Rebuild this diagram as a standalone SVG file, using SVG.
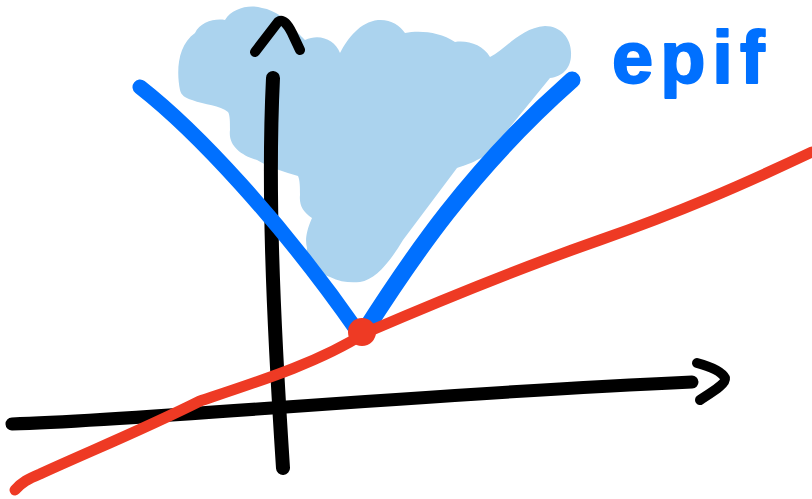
<svg xmlns="http://www.w3.org/2000/svg" width="812" height="499" viewBox="0 0 812 499">
<style>
.ink{fill:none;stroke-linecap:round;stroke-linejoin:round}
.blk{stroke:#000}
.blu{stroke:#0070FF}
.red{stroke:#EE3A24}
.cloud{fill:#ABD3EE}
.lbl{font-family:"Liberation Sans",Arial,sans-serif;font-weight:bold;fill:#0070FF;stroke:#0070FF;stroke-width:2;stroke-linejoin:round}
</style>
<rect width="812" height="499" fill="#fff"/>
<g id="epigraph">
<path class="cloud" d="M180,90 C176,70 178,45 195,33 C200,22 215,18 225,20 C232,8 250,4 262,8 C275,10 288,20 295,30 C300,35 303,38 305,40 C320,33 335,40 340,53 C348,38 360,22 378,20 C390,19 400,25 405,33 C420,30 440,32 455,42 C468,40 483,45 490,57 C505,50 520,28 545,26 C562,26 572,40 571,55 C571,68 562,77 550,78 L510,127 C500,140 490,155 477,160 C470,164 462,166 457,168 L403,240 C390,262 375,280 360,282 C350,283 340,282 330,277 C315,272 305,260 307,248 C305,240 306,232 312,218 C303,212 299,205 300,195 C300,188 300,180 298,176 C285,172 270,168 257,160 C240,155 228,145 230,130 C230,122 230,115 228,112 C220,105 205,105 192,100 C185,98 181,95 180,90 Z"/>
</g>
<g id="axes">
<path class="ink blk" stroke-width="14" d="M273,78 C268,180 272,300 283,468"/>
<path class="ink blk" stroke-width="10" d="M255,52 L278,22 C283,18 288,25 292,33 L300,50"/>
<path class="ink blk" stroke-width="13" d="M12,424 C150,420 400,395 692,382"/>
<path class="ink blk" stroke-width="10" d="M697,363 C712,367 722,372 725,378 C726,384 712,392 700,400"/>
</g>
<g id="function">
<path class="ink blu" stroke-width="15" d="M140,87 C195,130 280,220 358,332"/>
<path class="ink blu" stroke-width="17" d="M364,332 C410,260 470,170 572,80"/>
</g>
<g id="tangent">
<path class="ink red" stroke-width="11" d="M15,490 C22,482 28,479 40,474 C90,451 140,431 200,401 C260,381 320,362 365,333 C430,305 520,268 600,240 C680,212 740,186 812,152"/>
<circle cx="362" cy="332" r="14" fill="#EE3A24"/>
</g>
<g id="label">
<text class="lbl" x="612" y="83" font-size="74" letter-spacing="7">epif</text>
</g>
</svg>
